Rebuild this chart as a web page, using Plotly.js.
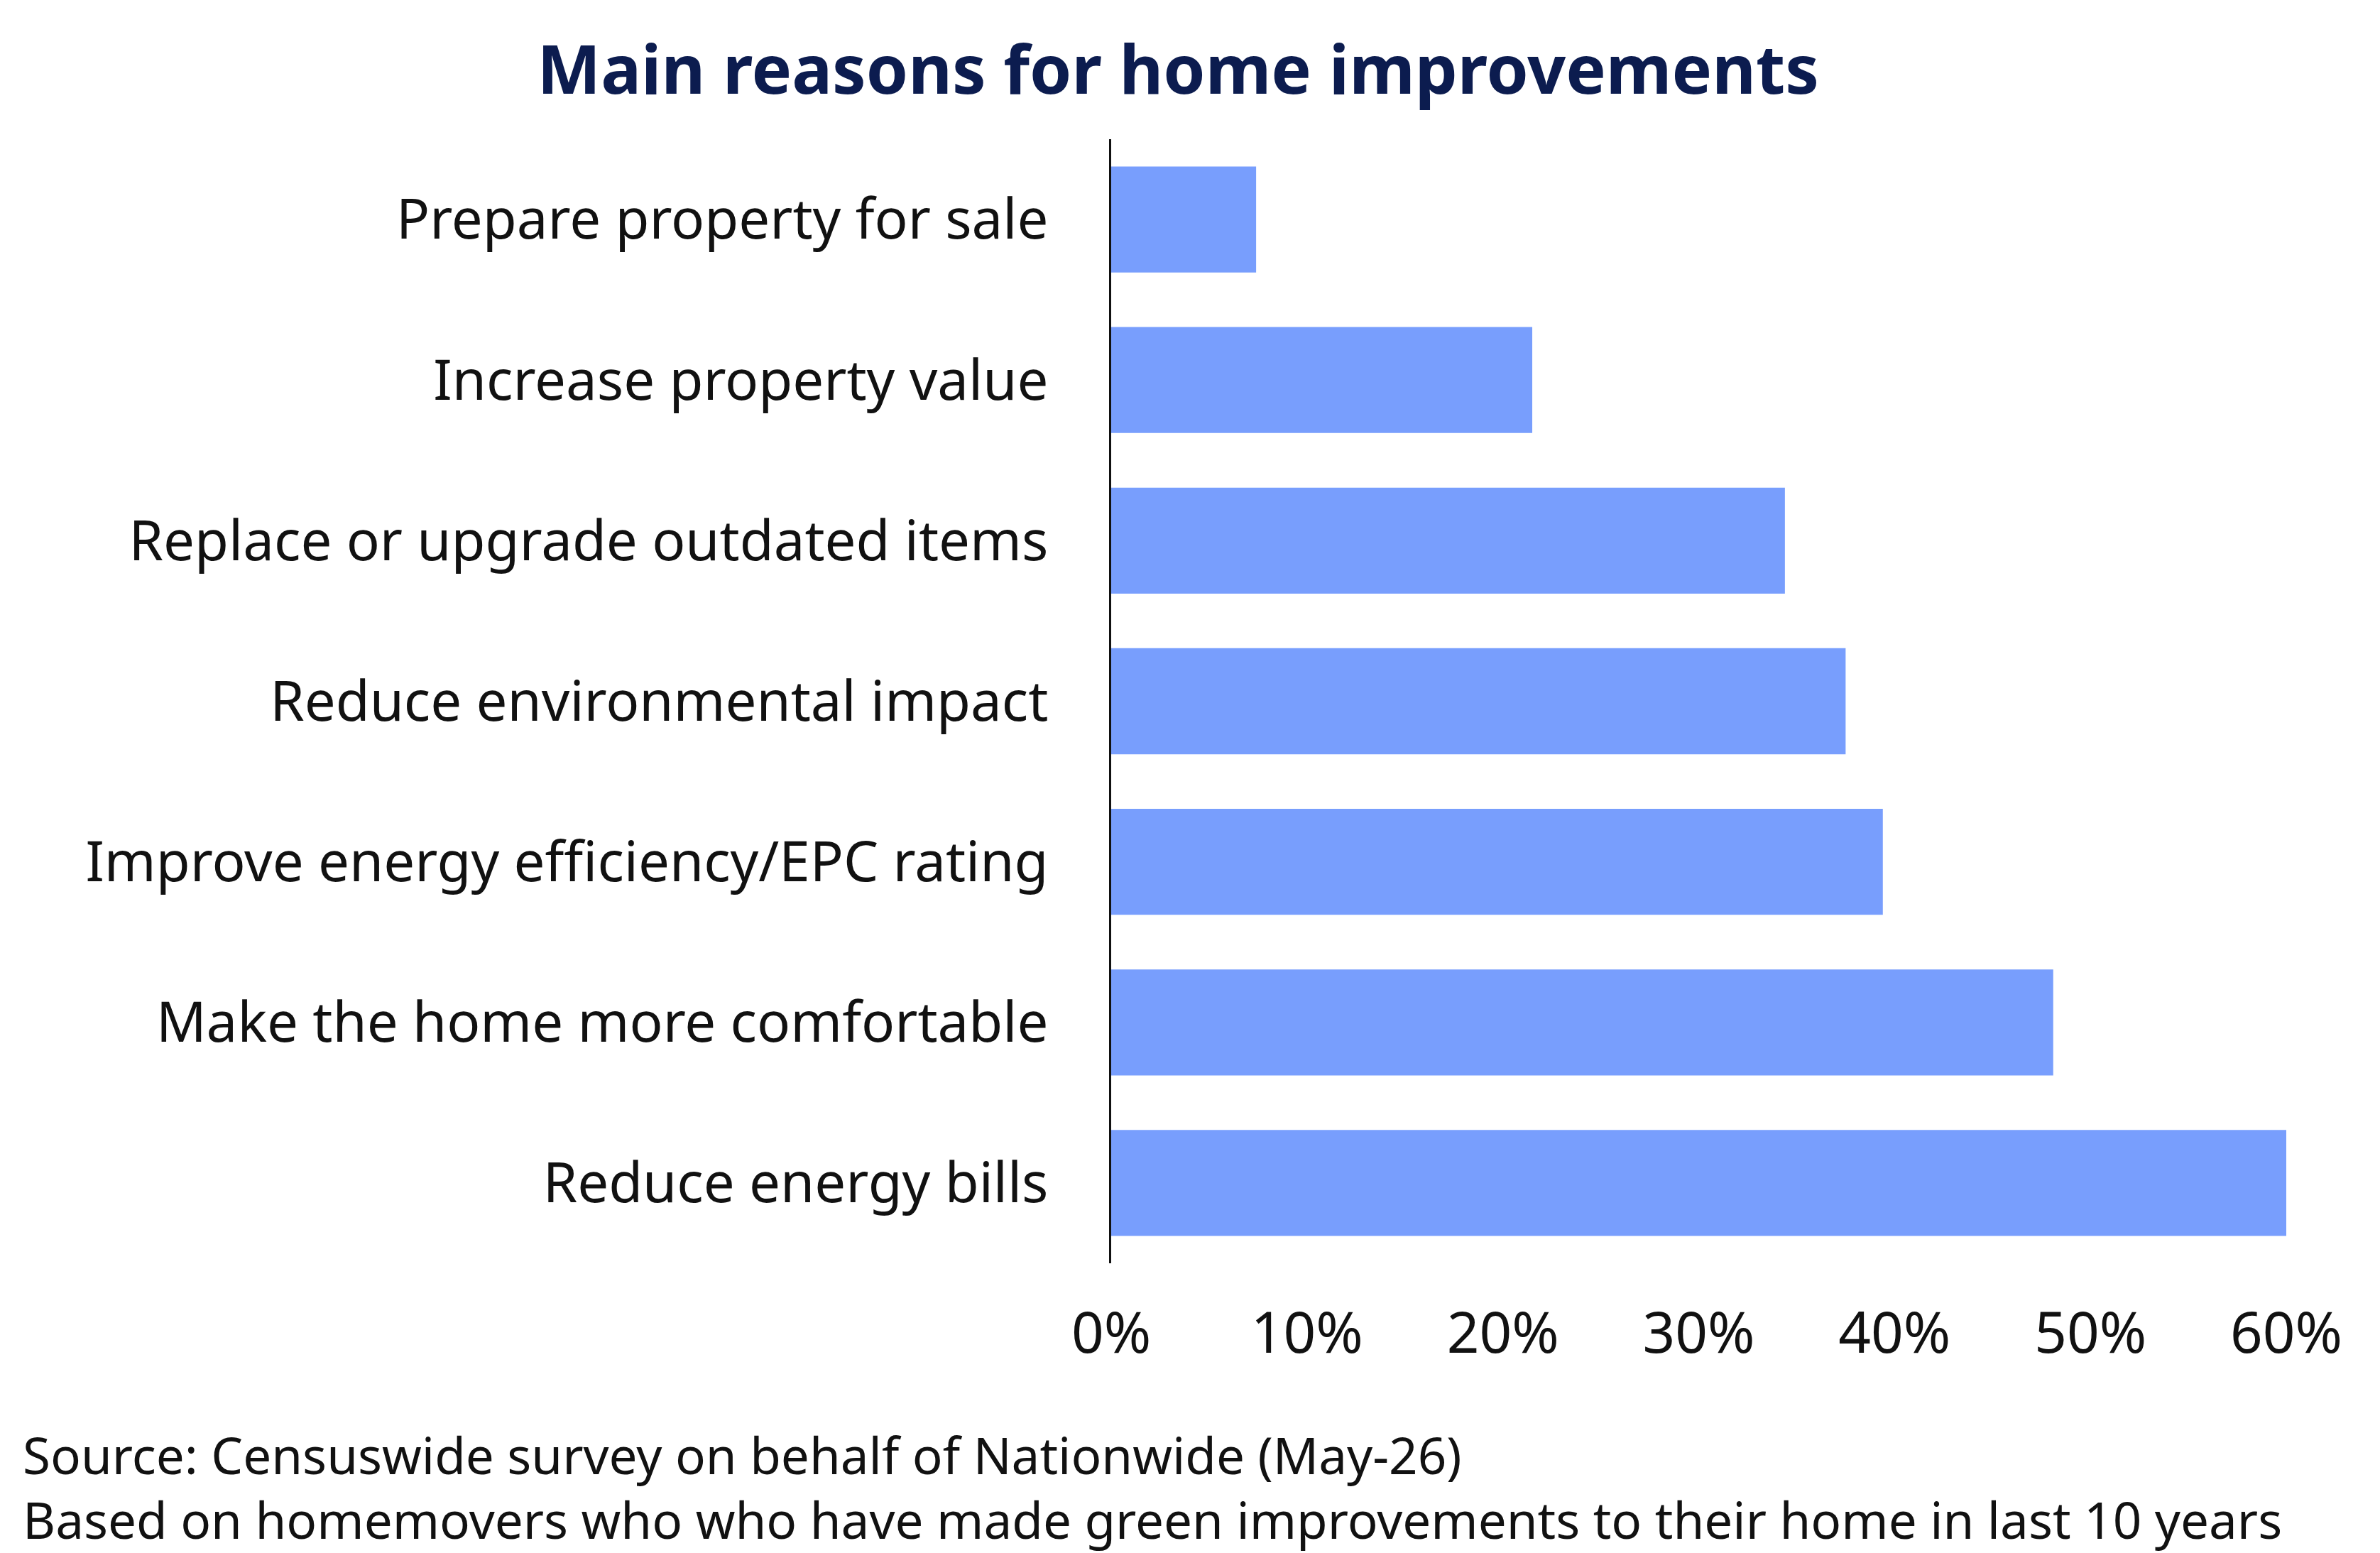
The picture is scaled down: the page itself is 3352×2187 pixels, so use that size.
<!DOCTYPE html>
<html>
<head>
<meta charset="utf-8">
<script src="https://cdn.plot.ly/plotly-3.0.1.min.js"></script>
<style>html,body{margin:0;padding:0;background:#fff}#chart{width:3352px;height:2187px}</style>
</head>
<body>
<div id="chart"></div>
<script>
// categories listed bottom to top
const reasons = [
  'Reduce energy bills',
  'Make the home more comfortable',
  'Improve energy efficiency/EPC rating',
  'Reduce environmental impact',
  'Replace or upgrade outdated items',
  'Increase property value',
  'Prepare property for sale'
];
const shares = [60.0, 48.1, 39.4, 37.5, 34.4, 21.5, 7.4];
const tickVals = [0, 10, 20, 30, 40, 50, 60];
const tickText = tickVals.map(v => v + '%');

const font = 'Noto Sans, Open Sans, sans-serif';

const trace = {
  type: 'bar', orientation: 'h',
  y: reasons, x: shares,
  marker: { color: '#789efd' },
  hoverinfo: 'x+y'
};

const layout = {
  width: 3352, height: 2187,
  margin: { l: 1565, r: 132, t: 196, b: 408 },
  paper_bgcolor: 'white', plot_bgcolor: 'white',
  bargap: 0.34,
  showlegend: false,
  title: {
    text: '<b>Main reasons for home improvements</b>',
    font: { family: font, size: 95, color: '#0c1c4f' },
    x: 0.495, xanchor: 'center', y: 0.955, yanchor: 'middle'
  },
  xaxis: {
    range: [0, 60], tickvals: tickVals, ticktext: tickText,
    showgrid: false, zeroline: false, showline: false, ticks: '',
    tickfont: { family: font, size: 80, color: '#111' },
    ticklabelstandoff: 45
  },
  yaxis: {
    showgrid: false, zeroline: false, showline: true, linecolor: '#111', linewidth: 3,
    ticks: '', tickfont: { family: font, size: 78, color: '#111' },
    ticklabelstandoff: 70
  },
  annotations: [
    { text: 'Source: Censuswide survey on behalf of Nationwide (May-26)', xref: 'paper', yref: 'paper',
      x: -1535/1655, y: -(2052-1783)/1583, xanchor: 'left', yanchor: 'middle', showarrow: false,
      font: { family: font, size: 71, color: '#111' } },
    { text: 'Based on homemovers who who have made green improvements to their home in last 10 years', xref: 'paper', yref: 'paper',
      x: -1535/1655, y: -(2143-1783)/1583, xanchor: 'left', yanchor: 'middle', showarrow: false,
      font: { family: font, size: 71, color: '#111' } }
  ]
};

Plotly.newPlot('chart', [trace], layout, { displayModeBar: false });
</script>
</body>
</html>
